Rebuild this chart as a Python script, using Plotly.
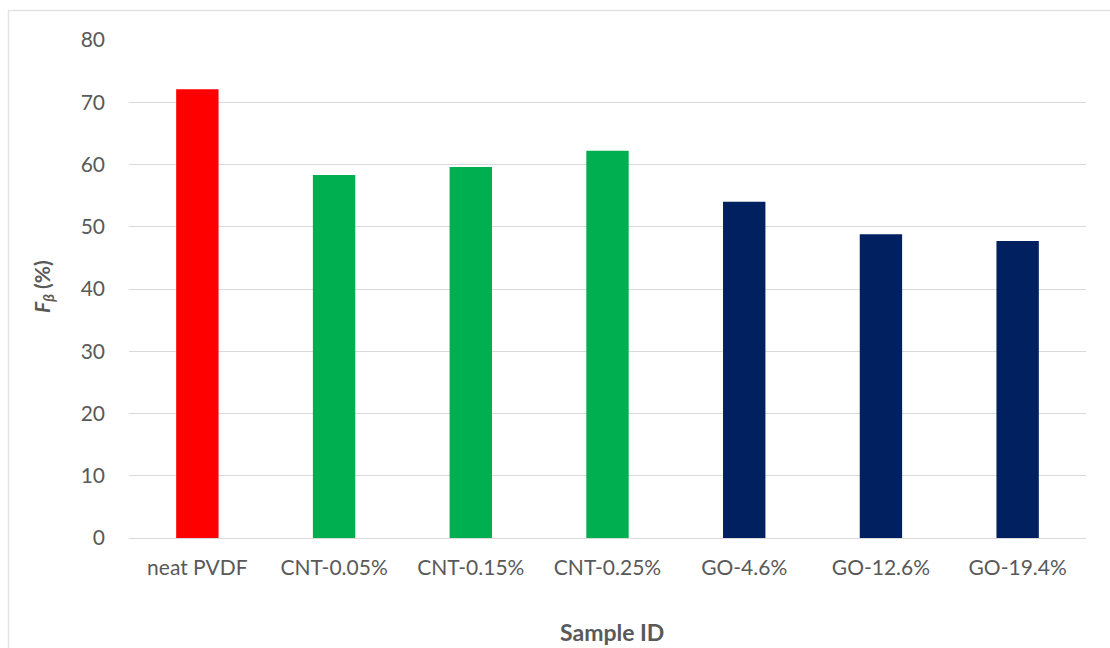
import plotly.graph_objects as go

samples = ["neat PVDF", "CNT-0.05%", "CNT-0.15%", "CNT-0.25%", "GO-4.6%", "GO-12.6%", "GO-19.4%"]
f_beta = [72.1, 58.3, 59.6, 62.2, 54.0, 48.8, 47.7]
bar_colors = ["#FF0000", "#00B050", "#00B050", "#00B050", "#002060", "#002060", "#002060"]
y_ticks = [0, 10, 20, 30, 40, 50, 60, 70, 80]

W, H = 1110, 648
L, R, T, B = 129, 24, 40, 110
pw, ph = W - L - R, H - T - B

fig = go.Figure(
    go.Bar(
        x=samples,
        y=f_beta,
        marker=dict(color=bar_colors, line=dict(width=0)),
        hoverinfo="x+y",
    )
)

FONT = "Lato, 'Open Sans', sans-serif"
tick_font = dict(family=FONT, size=21, color="#595959")

fig.update_layout(
    width=W,
    height=H,
    margin=dict(l=L, r=R, t=T, b=B),
    paper_bgcolor="white",
    plot_bgcolor="white",
    bargap=0.69,
    showlegend=False,
    xaxis=dict(
        showgrid=False,
        showline=True,
        linecolor="#D9D9D9",
        linewidth=1,
        ticks="",
        tickfont=tick_font,
        ticklabelstandoff=11,
    ),
    yaxis=dict(
        range=[0, 80],
        tickvals=y_ticks,
        showgrid=True,
        gridcolor="#D9D9D9",
        gridwidth=1,
        zeroline=False,
        showline=False,
        ticks="",
        tickfont=tick_font,
        ticklabelstandoff=23,
    ),
    font=dict(family=FONT),
)

# Axis titles
fig.add_annotation(
    text="<b>Sample ID</b>",
    xref="paper", yref="paper",
    x=(612 - L) / pw, y=-(632 - (T + ph)) / ph,
    xanchor="center", yanchor="middle",
    showarrow=False,
    font=dict(family=FONT, size=23, color="#595959"),
)
fig.add_annotation(
    text="<b><i>F</i></b><sub><b><i>β</i></b></sub><b> (%)</b>",
    xref="paper", yref="paper",
    x=(43 - L) / pw, y=((T + ph) - 287) / ph,
    xanchor="center", yanchor="middle",
    textangle=-90,
    showarrow=False,
    font=dict(family=FONT, size=21, color="#595959"),
)

# Outer chart frame
fig.add_shape(
    type="rect",
    xref="paper", yref="paper",
    x0=(8.5 - L) / pw, x1=(W + 20 - L) / pw,
    y0=-(H + 20 - (T + ph)) / ph, y1=((T + ph) - 10.5) / ph,
    line=dict(color="#E3E3E3", width=1.5),
    fillcolor="rgba(0,0,0,0)",
    layer="below",
)

fig.write_html("out.html")
